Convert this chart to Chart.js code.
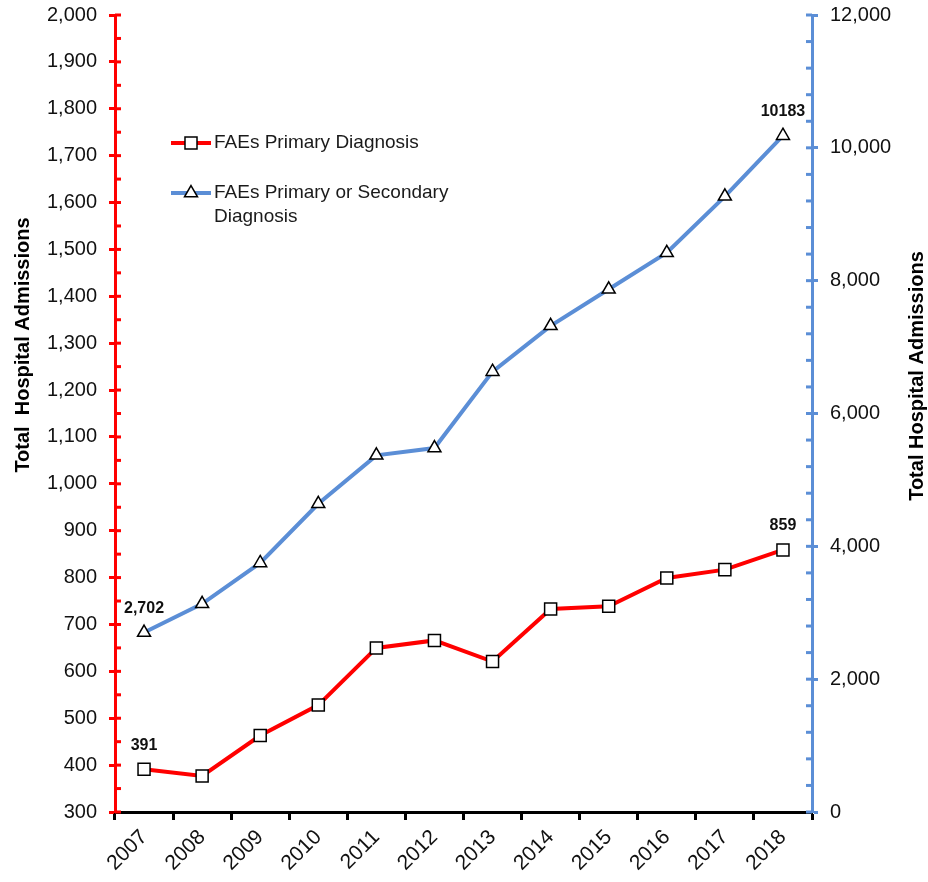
<!DOCTYPE html>
<html>
<head>
<meta charset="utf-8">
<script src="https://cdn.jsdelivr.net/npm/chart.js@4.4.1/dist/chart.umd.min.js"></script>
<style>
  body { margin: 0; background: #fff; }
  #wrap { width: 928px; height: 882px; }
</style>
</head>
<body>
<div id="wrap"><canvas id="lineChart" width="928" height="882"></canvas></div>
<script>
// data
var years = ['2007', '2008', '2009', '2010', '2011', '2012', '2013', '2014', '2015', '2016', '2017', '2018'];
var primaryDiag = [391, 377, 463, 528, 650, 666, 621, 733, 739, 799, 817, 859];
var primaryOrSecondary = [2702, 3135, 3750, 4640, 5370, 5480, 6630, 7320, 7870, 8420, 9270, 10183];
var seriesNames = ['FAEs Primary Diagnosis', 'FAEs Primary or Secondary\nDiagnosis'];
// [dataset, index, text]
var pointNotes = [[0, 0, '391'], [0, 11, '859'], [1, 0, '2,702'], [1, 11, '10183']];

var RED = '#ff0000';
var BLUE = '#5b8ed6';

var extras = {
  id: 'extras',
  afterDraw: function(chart) {
    var ctx = chart.ctx;
    var yl = chart.scales.y;
    var yr = chart.scales.y1;
    ctx.save();

    // inside ticks, major and minor
    ctx.lineWidth = 3;
    ctx.strokeStyle = RED;
    for (var v = 300; v <= 2000; v += 50) {
      var py = yl.getPixelForValue(v);
      ctx.beginPath();
      ctx.moveTo(yl.right, py);
      ctx.lineTo(yl.right + 6, py);
      ctx.stroke();
    }
    ctx.strokeStyle = BLUE;
    for (var w = 0; w <= 12000; w += 400) {
      var py2 = yr.getPixelForValue(w);
      ctx.beginPath();
      ctx.moveTo(yr.left, py2);
      ctx.lineTo(yr.left - 6, py2);
      ctx.stroke();
    }

    // point notes
    ctx.fillStyle = '#111';
    ctx.font = 'bold 16px "Liberation Sans", Arial, sans-serif';
    ctx.textAlign = 'center';
    ctx.textBaseline = 'middle';
    pointNotes.forEach(function(n) {
      var p = chart.getDatasetMeta(n[0]).data[n[1]];
      ctx.fillText(n[2], p.x, p.y - 24);
    });

    // legend
    var rows = [{y: 143, color: RED, style: 'rect'}, {y: 193, color: BLUE, style: 'triangle'}];
    ctx.font = '19px "Liberation Sans", Arial, sans-serif';
    ctx.textAlign = 'left';
    rows.forEach(function(r, i) {
      ctx.strokeStyle = r.color;
      ctx.lineWidth = 4;
      ctx.beginPath();
      ctx.moveTo(171, r.y);
      ctx.lineTo(211, r.y);
      ctx.stroke();
      ctx.fillStyle = '#fff';
      ctx.strokeStyle = '#000';
      ctx.lineWidth = 1.5;
      Chart.helpers.drawPoint(ctx, {pointStyle: r.style, radius: r.style == 'rect' ? 8.5 : 7.5, rotation: 0, borderWidth: 1.5}, 191, r.y);
      ctx.fillStyle = '#1a1a1a';
      seriesNames[i].split('\n').forEach(function(line, k) {
        ctx.fillText(line, 214, r.y + k * 24);
      });
    });

    // axis titles
    ctx.font = 'bold 20px "Liberation Sans", Arial, sans-serif';
    ctx.fillStyle = '#000';
    ctx.textAlign = 'center';
    ctx.save();
    ctx.translate(23, 345);
    ctx.rotate(-Math.PI / 2);
    ctx.fillText('Total  Hospital Admissions', 0, 0);
    ctx.restore();
    ctx.save();
    ctx.translate(917, 376);
    ctx.rotate(-Math.PI / 2);
    ctx.fillText('Total Hospital Admissions', 0, 0);
    ctx.restore();

    ctx.restore();
  }
};

var tickFont = {family: '"Liberation Sans", Arial, sans-serif', size: 20};

var lineChart = new Chart(document.getElementById('lineChart').getContext('2d'), {
  type: 'line',
  data: {
    labels: years,
    datasets: [{
      label: 'FAEs Primary Diagnosis',
      data: primaryDiag,
      yAxisID: 'y',
      borderColor: RED,
      borderWidth: 4,
      pointStyle: 'rect',
      pointRadius: 8.5,
      pointBackgroundColor: '#fff',
      pointBorderColor: '#000',
      pointBorderWidth: 1.5,
      tension: 0
    }, {
      label: 'FAEs Primary or Secondary Diagnosis',
      data: primaryOrSecondary,
      yAxisID: 'y1',
      borderColor: BLUE,
      borderWidth: 4,
      pointStyle: 'triangle',
      pointRadius: 7.5,
      pointBackgroundColor: '#fff',
      pointBorderColor: '#000',
      pointBorderWidth: 1.5,
      tension: 0
    }]
  },
  options: {
    responsive: false,
    animation: false,
    layout: {padding: {top: 15, left: 0, right: 0, bottom: 0}},
    plugins: {legend: {display: false}, tooltip: {enabled: false}},
    scales: {
      x: {
        offset: true,
        grid: {offset: true, drawOnChartArea: false, tickLength: 8, tickColor: '#000', tickWidth: 3},
        border: {color: '#000', width: 3},
        ticks: {color: '#111', font: {family: tickFont.family, size: 21}, minRotation: 45, maxRotation: 45, padding: 5},
        afterFit: function(s) { s.height = 70; s.paddingLeft = 0; s.paddingRight = 0; }
      },
      y: {
        position: 'left',
        min: 300,
        max: 2000,
        grid: {drawOnChartArea: false, tickLength: 6, tickColor: RED, tickWidth: 3},
        border: {color: RED, width: 3},
        ticks: {stepSize: 100, color: '#111', font: tickFont, padding: 12},
        afterFit: function(s) { s.width = 115; s.paddingTop = 0; s.paddingBottom = 0; }
      },
      y1: {
        position: 'right',
        min: 0,
        max: 12000,
        grid: {drawOnChartArea: false, tickLength: 6, tickColor: BLUE, tickWidth: 3},
        border: {color: BLUE, width: 3},
        ticks: {stepSize: 2000, color: '#111', font: tickFont, padding: 12},
        afterFit: function(s) { s.width = 116; s.paddingTop = 0; s.paddingBottom = 0; }
      }
    }
  },
  plugins: [extras]
});
</script>
</body>
</html>
